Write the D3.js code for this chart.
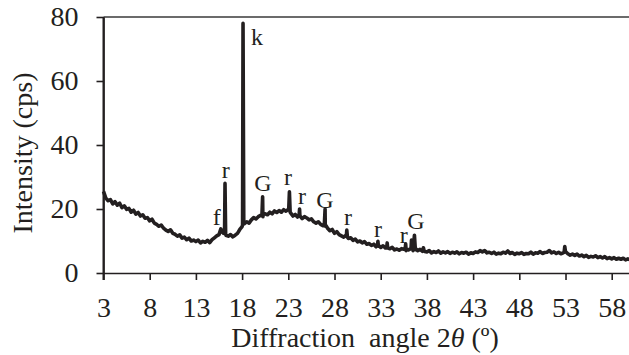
<!DOCTYPE html>
<html>
<head>
<meta charset="utf-8">
<script src="https://cdn.jsdelivr.net/npm/d3@7"></script>
<style>
  html, body { margin: 0; padding: 0; background: #fff; }
  svg { display: block; }
  text { font-family: "Liberation Serif", "Times New Roman", serif; fill: #231f20; }
</style>
</head>
<body>
<script>
// scan sampling (degrees 2-theta)
var startAngle = 3, stepAngle = 0.25;

// background counts, one value per step from 3 to 60
var background = [
  25.5, 23.4, 22.6, 22.9,
  21.6, 22.3, 21.2, 21.8,
  20.4, 21.0, 19.9, 20.2,
  19.0, 19.6, 18.4, 18.9,
  17.8, 18.2, 17.1, 17.3,
  16.3, 16.8, 15.6, 15.2,
  14.6, 15.0, 14.0, 13.4,
  13.0, 13.5, 12.4, 12.1,
  11.5, 11.9, 10.9, 11.2,
  10.4, 10.9, 10.0, 10.3,
  9.8, 10.3, 9.4, 9.9,
  9.6, 10.2, 9.5, 10.4,
  11.0, 11.6, 12.0, 13.0,
  12.4, 11.8, 11.5, 12.0,
  11.3, 11.8, 12.4, 13.6,
  14.5, 15.4, 16.0, 15.6,
  16.6, 17.3, 16.9, 17.6,
  18.0, 17.6, 18.5, 18.2,
  19.0, 18.5, 19.4, 18.9,
  19.5, 19.0, 19.8, 19.3,
  19.9, 18.8, 17.8, 18.3,
  17.5, 18.2, 17.0, 17.6,
  17.2, 16.6, 16.9, 16.0,
  15.6, 16.0, 15.2, 14.8,
  14.6, 14.0, 13.2, 13.6,
  12.4, 12.9, 12.0, 11.6,
  11.2, 11.8, 10.8, 11.0,
  10.2, 10.6, 9.7, 10.0,
  9.4, 9.8, 9.0, 9.2,
  8.6, 9.0, 8.2, 8.4,
  8.0, 8.5, 7.8, 7.9,
  7.6, 8.0, 7.2, 7.5,
  7.1, 7.6, 7.4, 7.0,
  7.2, 7.6, 7.0, 7.3,
  7.0, 7.4, 6.8, 6.7,
  6.6, 7.0, 6.3, 6.7,
  6.4, 6.9, 6.2, 6.6,
  6.3, 6.7, 6.1, 6.5,
  6.2, 6.6, 6.0, 6.4,
  6.2, 6.5, 5.9, 6.3,
  6.1, 6.6, 6.4, 7.0,
  6.6, 7.0, 6.3, 6.5,
  6.1, 6.5, 5.9, 6.2,
  6.0, 6.5, 6.2, 6.9,
  6.1, 6.4, 5.8, 6.2,
  6.0, 6.4, 5.8, 6.1,
  6.0, 6.5, 5.9, 6.3,
  6.2, 6.7, 6.1, 6.4,
  6.5, 7.0, 6.3, 6.6,
  6.1, 6.5, 6.0, 6.3,
  6.6, 6.0, 5.6, 5.9,
  5.5, 5.9, 5.3, 5.6,
  5.1, 5.5, 4.9, 5.2,
  5.0, 5.4, 4.8, 5.1,
  4.7, 5.1, 4.5, 4.8,
  4.4, 4.8, 4.3, 4.6,
  4.3, 4.6, 4.1, 4.4,
  4.1
];

// sharp reflections [angle, counts]
var peakPoints = [
  [15.7, 13.8],
  [16.1, 12.3], [16.15, 28.0], [16.22, 12.0],
  [18.05, 15.0], [18.1, 78.0], [18.18, 16.0],
  [20.15, 18.3], [20.22, 23.8], [20.3, 18.6],
  [23.05, 20.2], [23.12, 25.4], [23.2, 19.0],
  [24.17, 18.0], [24.22, 20.0], [24.28, 17.8],
  [26.9, 15.2], [26.98, 20.0], [27.08, 14.8],
  [29.28, 11.5], [29.33, 13.4], [29.4, 11.2],
  [32.65, 8.7], [32.7, 9.9], [32.78, 8.6],
  [33.65, 7.9], [33.7, 9.4], [33.78, 7.8],
  [35.65, 7.6], [35.7, 9.1], [35.8, 7.5],
  [36.28, 7.6], [36.33, 10.3], [36.45, 8.0], [36.65, 11.8], [36.78, 7.6],
  [37.55, 7.0], [37.62, 7.9], [37.7, 6.9],
  [52.85, 6.5], [52.92, 8.3], [53.0, 6.7]
];

// phase labels [text, angle, counts] (f, r, k, G)
var phaseLabels = [
  ["f", 15.25, 15.0],
  ["r", 16.22, 29.7],
  ["k", 19.6, 71.3],
  ["G", 20.26, 25.6],
  ["r", 22.97, 27.5],
  ["r", 24.48, 21.6],
  ["G", 26.97, 20.3],
  ["r", 29.46, 15.0],
  ["r", 32.7, 11.25],
  ["r", 35.5, 9.4],
  ["G", 36.8, 13.75]
];

var xTicks = [3, 8, 13, 18, 23, 28, 33, 38, 43, 48, 53, 58];
var yTicks = [0, 20, 40, 60, 80];

var width = 629, height = 355;
var serif = "'Liberation Serif', 'Times New Roman', serif";

var pattern = background.map(function (v, i) { return [startAngle + i * stepAngle, v]; })
  .concat(peakPoints)
  .sort(function (a, b) { return a[0] - b[0]; });

var x = d3.scaleLinear().domain([3, 60]).range([103.5, 630.2]);
var y = d3.scaleLinear().domain([0, 80]).range([273, 17]);

var svg = d3.select("body").append("svg")
    .attr("width", width)
    .attr("height", height);

// trace
svg.append("path")
    .datum(pattern)
    .attr("d", d3.line().x(function (d) { return x(d[0]); }).y(function (d) { return y(d[1]); }))
    .attr("fill", "none")
    .attr("stroke", "#231f20")
    .attr("stroke-width", 3.6)
    .attr("stroke-linejoin", "round");

// top frame line
svg.append("line")
    .attr("x1", x(3)).attr("x2", x(60))
    .attr("y1", y(80)).attr("y2", y(80))
    .attr("stroke", "#3a3a3a")
    .attr("stroke-width", 1.6);

var xAxis = svg.append("g")
    .attr("transform", "translate(0," + y(0) + ")")
    .call(d3.axisBottom(x).tickValues(xTicks).tickSize(7).tickSizeOuter(0).tickFormat(d3.format("d")));

var yAxis = svg.append("g")
    .attr("transform", "translate(" + x(3) + ",0)")
    .call(d3.axisLeft(y).tickValues(yTicks).tickSize(7).tickSizeOuter(0).tickPadding(18));

[xAxis, yAxis].forEach(function (g) {
  g.attr("font-family", null);
  g.select(".domain").attr("stroke", "#231f20").attr("stroke-width", 1.6);
  g.selectAll(".tick line").attr("stroke", "#231f20").attr("stroke-width", 1.6);
  g.selectAll(".tick text")
    .style("font-family", serif)
    .attr("font-size", 28)
    .attr("fill", "#231f20");
});

xAxis.selectAll(".tick text").attr("y", 44).attr("dy", null);

// extend left axis down to x tick length
svg.append("line")
    .attr("x1", x(3)).attr("x2", x(3))
    .attr("y1", y(80)).attr("y2", y(0) + 7)
    .attr("stroke", "#231f20")
    .attr("stroke-width", 2);

// phase labels
svg.append("g").selectAll("text")
    .data(phaseLabels)
    .join("text")
    .attr("x", function (d) { return x(d[1]); })
    .attr("y", function (d) { return y(d[2]); })
    .attr("text-anchor", "middle")
    .style("font-family", serif)
    .attr("font-size", 24)
    .text(function (d) { return d[0]; });

// axis titles
var xTitle = svg.append("text")
    .attr("x", 365)
    .attr("y", 347)
    .attr("text-anchor", "middle")
    .style("font-family", serif)
    .attr("font-size", 28);
xTitle.append("tspan").text("Diffraction\u00a0 angle 2");
xTitle.append("tspan").attr("font-style", "italic").text("\u03b8");
xTitle.append("tspan").text(" (\u00ba)");

svg.append("text")
    .attr("transform", "translate(32,153) rotate(-90)")
    .attr("text-anchor", "middle")
    .style("font-family", serif)
    .attr("font-size", 28)
    .text("Intensity (cps)");
</script>
</body>
</html>
